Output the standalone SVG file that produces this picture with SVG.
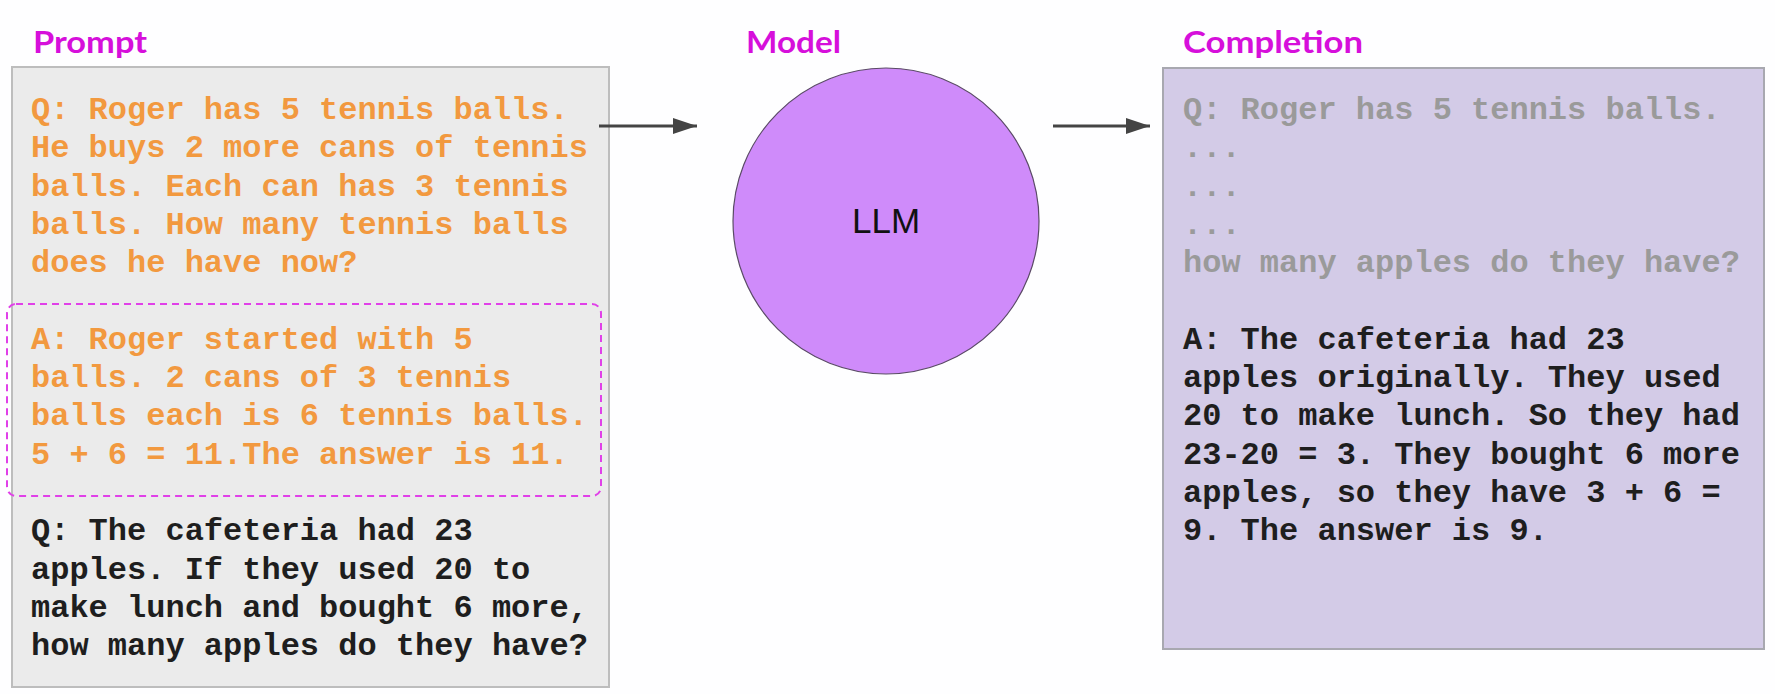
<svg xmlns="http://www.w3.org/2000/svg" width="1775" height="694" viewBox="0 0 1775 694">
<defs>
<style>
.lbl{font-family:Lato,"Open Sans","Liberation Sans",sans-serif;font-weight:700;font-size:31px;fill:#D60FDB}
.mono{font-family:"Liberation Mono","Courier New",monospace;font-weight:700;font-size:32px;white-space:pre}
.or{fill:#F2993F}
.bk{fill:#1E1E1E}
.gr{fill:#9A9A9A}
.conn{stroke:#444;stroke-width:3;fill:none}
</style>
<marker id="ah" markerWidth="24" markerHeight="18" refX="24" refY="9" orient="auto" markerUnits="userSpaceOnUse" viewBox="0 0 24 18">
<path d="M0,1 L24,9 L0,17 z" fill="#444"/>
</marker>
</defs>
<rect width="1775" height="694" fill="#FEFEFF"/>

<g id="prompt">
<text class="lbl" x="33" y="53" textLength="114" lengthAdjust="spacingAndGlyphs">Prompt</text>
<rect x="12" y="67" width="597" height="620" fill="#EBEBEB" stroke="#BDBDBD" stroke-width="2"/>
<rect x="7" y="304" width="594" height="192" rx="9" fill="none" stroke="#E040E8" stroke-width="2" stroke-dasharray="7 5"/>
<text class="mono or" x="31">
<tspan x="31" y="119">Q: Roger has 5 tennis balls.</tspan>
<tspan x="31" y="157.3">He buys 2 more cans of tennis</tspan>
<tspan x="31" y="195.6">balls. Each can has 3 tennis</tspan>
<tspan x="31" y="233.9">balls. How many tennis balls</tspan>
<tspan x="31" y="272.2">does he have now?</tspan>
<tspan x="31" y="348.8">A: Roger started with 5</tspan>
<tspan x="31" y="387.1">balls. 2 cans of 3 tennis</tspan>
<tspan x="31" y="425.4">balls each is 6 tennis balls.</tspan>
<tspan x="31" y="463.7">5 + 6 = 11.The answer is 11.</tspan>
</text>
<text class="mono bk" x="31">
<tspan x="31" y="540.3">Q: The cafeteria had 23</tspan>
<tspan x="31" y="578.6">apples. If they used 20 to</tspan>
<tspan x="31" y="616.9">make lunch and bought 6 more,</tspan>
<tspan x="31" y="655.2">how many apples do they have?</tspan>
</text>
</g>

<g id="model">
<text class="lbl" x="746" y="53" textLength="95" lengthAdjust="spacingAndGlyphs">Model</text>
<circle cx="886" cy="221" r="153" fill="#CF8BFA" stroke="#5A4A66" stroke-width="1.2"/>
<text x="886" y="233" text-anchor="middle" font-family="'Liberation Sans',Arial,sans-serif" font-size="35" fill="#111">LLM</text>
</g>

<g id="completion">
<text class="lbl" x="1183" y="53" textLength="180" lengthAdjust="spacingAndGlyphs">Completion</text>
<rect x="1163" y="68" width="601" height="581" fill="#D3CBE7" stroke="#A8A8B0" stroke-width="2"/>
<text class="mono gr" x="1183">
<tspan x="1183" y="119">Q: Roger has 5 tennis balls.</tspan>
<tspan x="1183" y="157.3">...</tspan>
<tspan x="1183" y="195.6">...</tspan>
<tspan x="1183" y="233.9">...</tspan>
<tspan x="1183" y="272.2">how many apples do they have?</tspan>
</text>
<text class="mono bk" x="1183">
<tspan x="1183" y="348.8">A: The cafeteria had 23</tspan>
<tspan x="1183" y="387.1">apples originally. They used</tspan>
<tspan x="1183" y="425.4">20 to make lunch. So they had</tspan>
<tspan x="1183" y="463.7">23-20 = 3. They bought 6 more</tspan>
<tspan x="1183" y="502">apples, so they have 3 + 6 =</tspan>
<tspan x="1183" y="540.3">9. The answer is 9.</tspan>
</text>
</g>

<g id="connectors">
<line class="conn" x1="599" y1="126" x2="697" y2="126" marker-end="url(#ah)"/>
<line class="conn" x1="1053" y1="126" x2="1150" y2="126" marker-end="url(#ah)"/>
</g>
</svg>
